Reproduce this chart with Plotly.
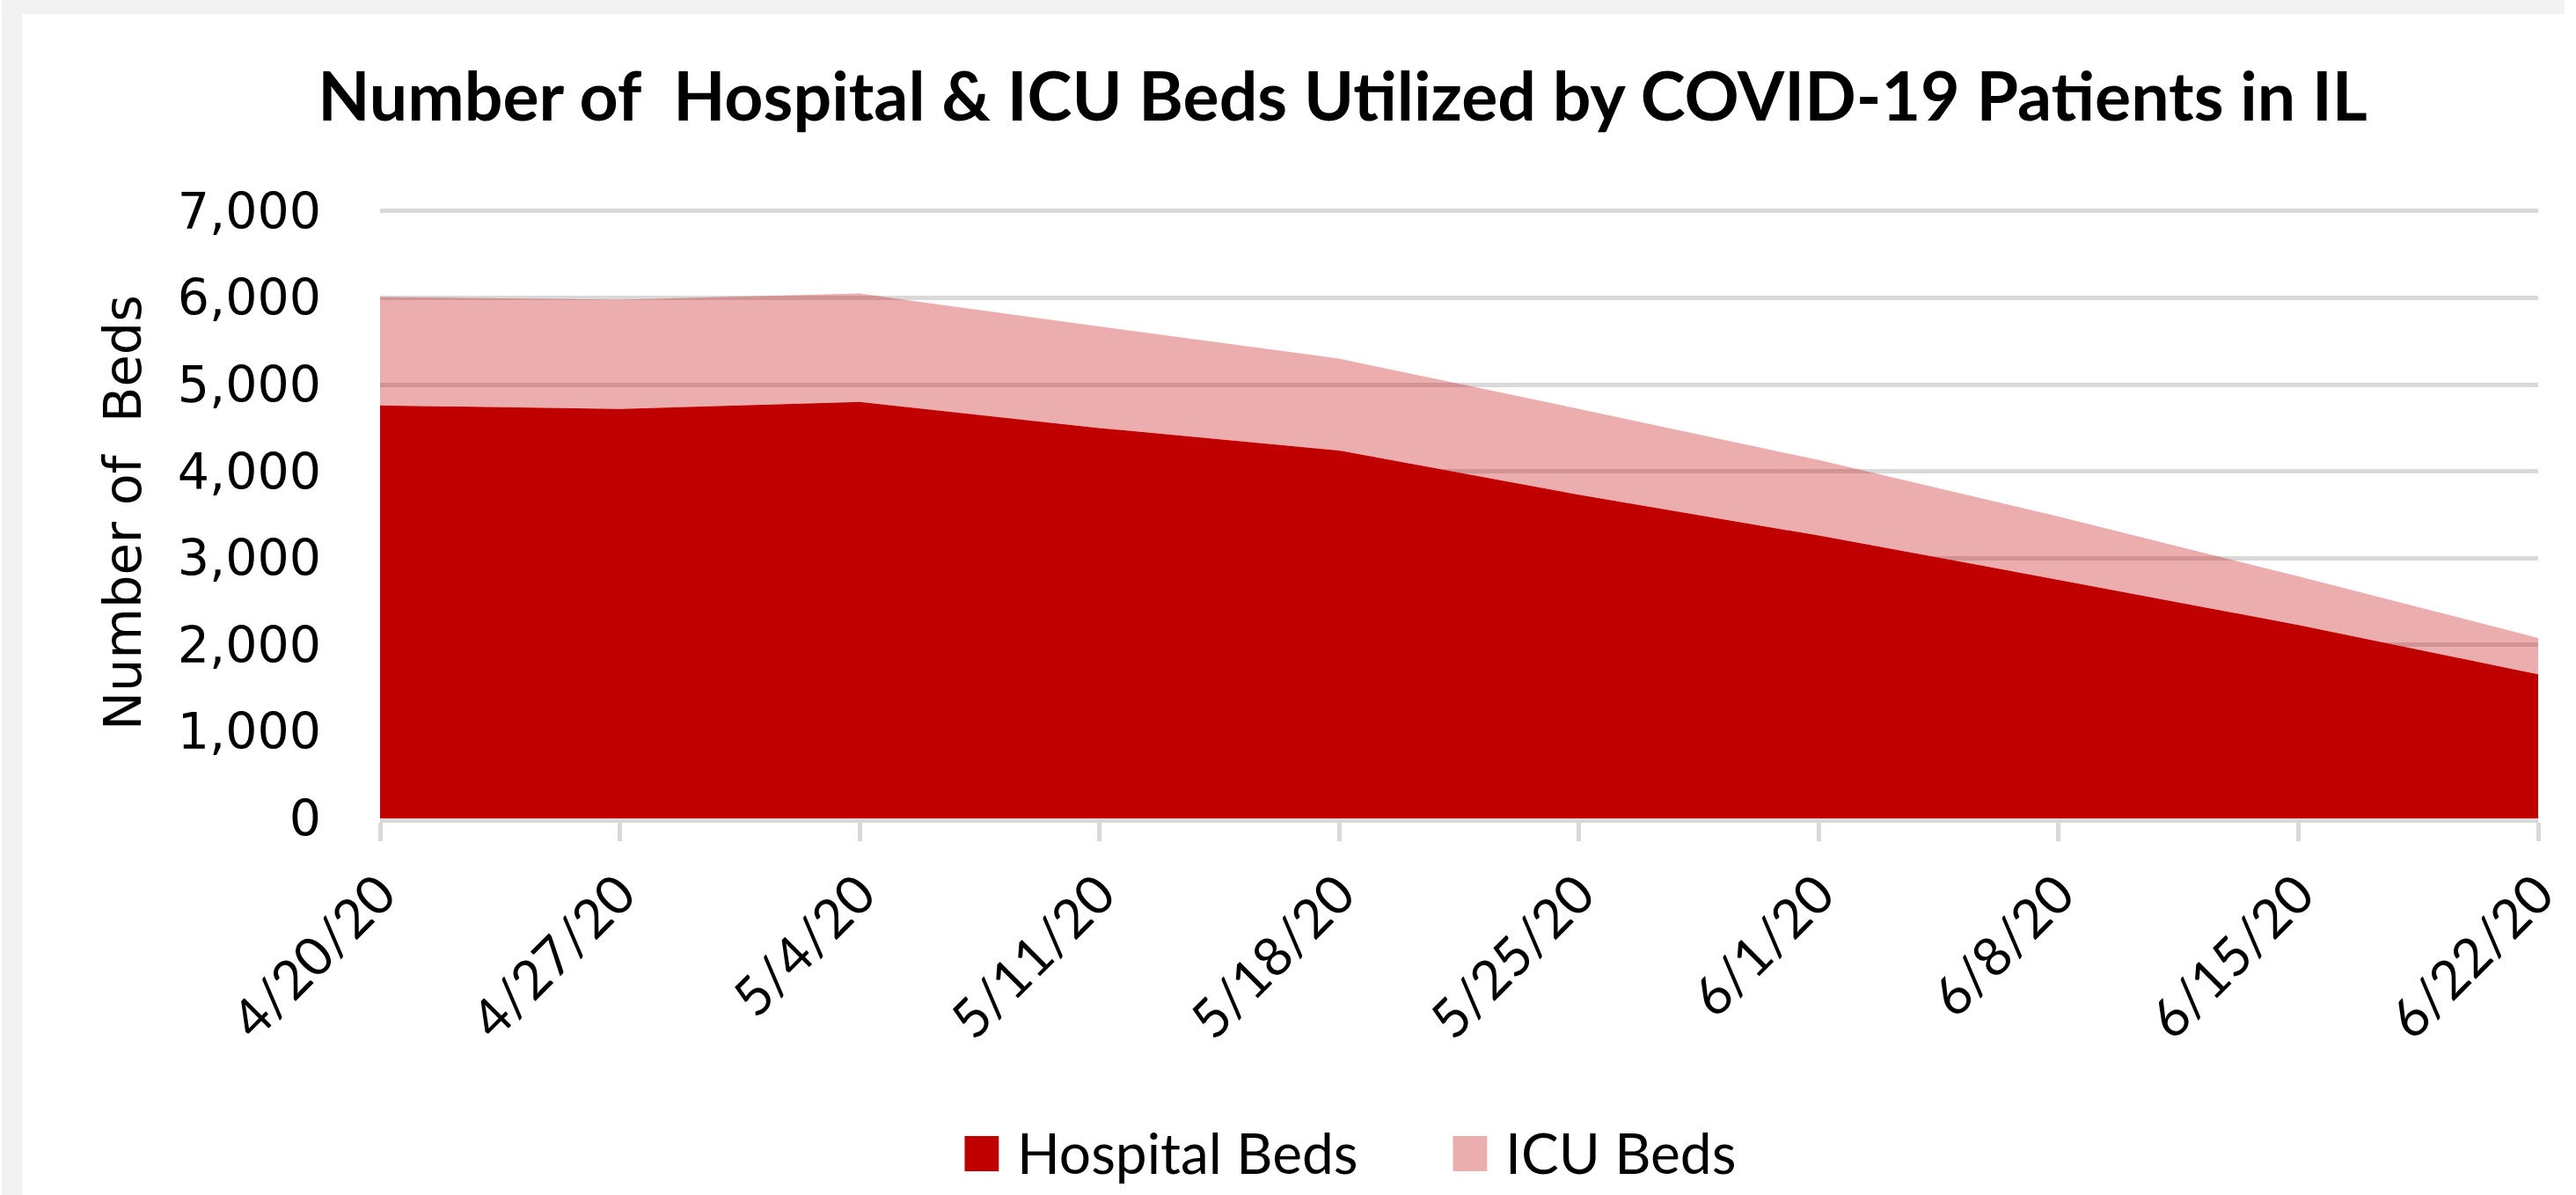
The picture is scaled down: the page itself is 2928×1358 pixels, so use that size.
import plotly.graph_objects as go

# ---- data ----
dates = ["4/20/20", "4/27/20", "5/4/20", "5/11/20", "5/18/20",
         "5/25/20", "6/1/20", "6/8/20", "6/15/20", "6/22/20"]
hospital_beds = [4760, 4720, 4800, 4500, 4240, 3730, 3260, 2750, 2230, 1660]
icu_beds = [1250, 1260, 1250, 1170, 1060, 990, 870, 730, 560, 420]
y_tick_values = [0, 1000, 2000, 3000, 4000, 5000, 6000, 7000]
series_names = ["Hospital Beds", "ICU Beds"]

# ---- layout geometry (pixels) ----
W, H = 2928, 1358
L, R, T, B = 432, 30, 235, 428
PW, PH = W - L - R, H - T - B

def px(x):
    return (x - L) / PW

def py(y):
    return (H - B - y) / PH

RED = "#C00000"
PINK = "rgba(192,0,0,0.32)"
GRID = "#D9D9D9"

fig = go.Figure()
fig.add_trace(go.Scatter(x=dates, y=hospital_beds, name=series_names[0],
                         stackgroup="one", mode="none", fillcolor=RED,
                         showlegend=False))
fig.add_trace(go.Scatter(x=dates, y=icu_beds, name=series_names[1],
                         stackgroup="one", mode="none", fillcolor=PINK,
                         showlegend=False))

shapes = [
    # light grey frame strips (top and left)
    dict(type="rect", xref="paper", yref="paper", x0=px(0), x1=px(W), y0=py(0), y1=py(16),
         fillcolor="#F2F2F2", line=dict(width=0), layer="below"),
    dict(type="rect", xref="paper", yref="paper", x0=px(0), x1=px(23), y0=py(0), y1=py(H),
         fillcolor="#F2F2F2", line=dict(width=0), layer="below"),
]
annotations = []
legend_items = [(1100, series_names[0], RED), (1658, series_names[1], "#EBAEAE")]
for x0, name, col in legend_items:
    shapes.append(dict(type="rect", xref="paper", yref="paper",
                       x0=px(x0), x1=px(x0 + 39), y0=py(1331), y1=py(1291),
                       fillcolor=col, line=dict(width=0)))
    annotations.append(dict(xref="paper", yref="paper", x=px(x0 + 58), y=py(1309),
                            xanchor="left", yanchor="middle", text=name, showarrow=False,
                            font=dict(family="Lato", size=64, color="black")))

fig.update_layout(
    width=W, height=H, autosize=False,
    margin=dict(l=L, r=R, t=T, b=B, pad=0),
    paper_bgcolor="white", plot_bgcolor="white",
    title=dict(text="Number of  Hospital & ICU Beds Utilized by COVID-19 Patients in IL",
               xref="container", yref="container", x=1526 / W, y=1 - 110 / H,
               xanchor="center", yanchor="middle",
               font=dict(family="Lato", size=77, weight="bold", color="black")),
    shapes=shapes, annotations=annotations,
    showlegend=False,
)
fig.update_xaxes(type="category", range=[0, len(dates) - 1], showgrid=False,
                 showline=True, linecolor=GRID, linewidth=5,
                 ticks="outside", ticklen=21, tickwidth=5, tickcolor=GRID,
                 tickangle=-45, tickfont=dict(family="Lato", size=61, color="black"))
fig.update_yaxes(range=[0, 7050], tickvals=y_tick_values, tickformat=",",
                 showgrid=True, gridcolor=GRID, gridwidth=5, zeroline=False,
                 showline=False, ticks="", ticklabelstandoff=66,
                 tickfont=dict(family="DejaVu Sans", size=57, color="black"),
                 title=dict(text="Number of  Beds", standoff=22,
                            font=dict(family="DejaVu Sans", size=59, color="black")))

fig.write_html("out.html", config={"displayModeBar": False},
               post_script="document.body.style.margin='0';document.body.style.overflow='hidden';")
